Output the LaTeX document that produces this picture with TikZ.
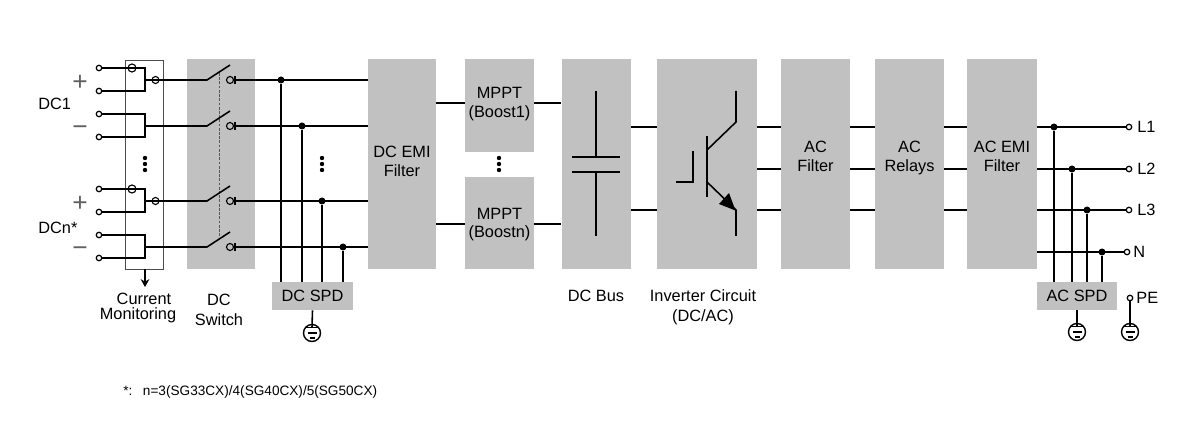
\documentclass[tikz,border=0pt]{standalone}
\usepackage{fontspec}
\setmainfont{Liberation Sans}
\usepackage{xcolor}
\usepackage{tikz}
\usetikzlibrary{arrows.meta}
\definecolor{blockgray}{RGB}{192,193,192}
\definecolor{linkbrown}{RGB}{105,85,60}
\def\px{0.02cm}
\def\dcrows{1/80,2/126,3/201,4/247}
\def\dcjoints{1/281,2/302,3/322,4/343}
\def\acrows{1/127/1129/1137/L1,2/169/1129/1137/L2,3/210/1129/1137/L3,4/252/1127/1133/N}
\def\acjoints{1/1054,2/1072,3/1087,4/1102}
\tikzstyle{every node}=[font=\fontsize{9.3}{10.8}\selectfont,align=center]
\tikzstyle{wire}=[line width=0.9pt,black]
\tikzstyle{thin wire}=[line width=0.65pt,black]
\tikzstyle{block}=[fill=blockgray,inner sep=0pt,minimum width=69*\px,minimum height=210*\px]
\tikzstyle{spd}=[fill=blockgray,inner sep=0pt,minimum width=80*\px,minimum height=28*\px]
\tikzstyle{terminal}=[circle,draw,fill=white,line width=0.7pt,inner sep=0pt,minimum size=5.5*\px]
\tikzstyle{ring}=[circle,draw,line width=0.65pt,inner sep=0pt,minimum size=8*\px]
\tikzstyle{joint}=[circle,fill=black,inner sep=0pt,minimum size=7*\px]
\tikzstyle{polarity}=[font=\fontsize{15}{15}\selectfont,text=black!62]
\tikzset{earth/.pic={
  \draw[line width=0.8pt] (0,0) circle (8.5);
  \draw[line width=0.8pt] (-6.5,-5.7) -- (6.5,-5.7);
  \draw[line width=0.8pt] (-4.5,0) -- (4.5,0);
  \draw[line width=0.8pt] (-2.5,5) -- (2.5,5);
  \coordinate (-bar) at (0,-5.7);
}}

\begin{document}
\begin{tikzpicture}[x=\px,y=-\px]
\useasboundingbox (0,0) rectangle (1200,442);

\begin{scope}
  \node[block,minimum width=68*\px] (sw) at (221,164.5) {};
  \node[block,minimum width=68*\px,text depth=3pt] (dcemi) at (402,164) {DC EMI\\Filter};
  \node[block,minimum height=93*\px,text depth=4pt] (boost1) at (499.5,105.5) {MPPT\\(Boost1)};
  \node[block,minimum height=92*\px,text height=19pt] (boostn) at (499.5,223) {MPPT\\(Boostn)};
  \node[block] (bus) at (596,164) {};
  \node[block,minimum width=100*\px] (inv) at (707,164) {};
  \node[block,text depth=9pt] (acf) at (815.5,164) {AC\\Filter};
  \node[block,text depth=9pt] (acr) at (909.5,164) {AC\\Relays};
  \node[block,minimum width=70*\px,text depth=9pt] (acemi) at (1002,164) {AC EMI\\Filter};
  \node[spd,minimum width=81*\px] (dcspd) at (312.5,296) {DC SPD};
  \node[spd] (acspd) at (1077,296) {AC SPD};
\end{scope}

\draw[line width=0.5pt,black!70] (125,60) rectangle (163,269);
\coordinate (cmbot) at (145,269);
\coordinate (cmtip) at (145,287);
\draw[thin wire,-{Stealth[length=4.5pt,width=5pt]}] (cmbot) -- (cmtip);
\draw[line width=0.5pt,linkbrown,dash pattern=on 1.6pt off 0.8pt] (219,73) -- (219,237);

\foreach \n/\y in \dcrows {
  \node[terminal] (ta\n) at (99,\y-12) {};
  \node[terminal] (tb\n) at (99,\y+11) {};
  \coordinate (tj\n) at (145,\y);
  \coordinate (hinge\n) at (207,\y);
  \coordinate (blade\n) at (230,\y-15);
  \node[ring,minimum size=7*\px] (con\n) at (230,\y) {};
  \coordinate (bar\n) at (235,\y);
  \draw[thin wire] (ta\n) -| (tj\n) |- (tb\n);
  \draw[wire] (tj\n) -- (hinge\n) -- (blade\n);
  \draw[wire] ([yshift=4*\px]bar\n) -- ([yshift=-4*\px]bar\n);
  \draw[wire] (bar\n) -- (bar\n -| dcemi.west);
}
\foreach \n in {1,3} {
  \node[ring] (cta\n) at (132,\n*60.5+7.5) {};
  \node[ring,minimum size=7*\px] (ctb\n) at (155.5,\n*60.5+19.5) {};
}

\foreach \n/\x in \dcjoints {
  \node[joint] (dj\n) at (\x,0 |- bar\n) {};
  \draw[wire] (dj\n) -- (dj\n |- dcspd.north);
}
\pic (gdc) at (312,333) {earth};
\draw[wire] (dcspd.south) -- (gdc-bar);

\foreach \x in {145,322,499} {
  \foreach \y in {158,164,170} {
    \fill (\x,\y) circle (2.2);
  }
}

\foreach \y in {103,224} {
  \draw[wire] (dcemi.east |- 0,\y) -- (boost1.west |- 0,\y);
  \draw[wire] (boost1.east |- 0,\y) -- (bus.west |- 0,\y);
}

\coordinate (capa) at (596,91);
\coordinate (capb) at (596,157);
\coordinate (capc) at (596,172);
\coordinate (capd) at (596,236);
\draw[wire] (capa) -- (capb) (572,157) -- (620,157);
\draw[wire] (capd) -- (capc) (572,172) -- (620,172);

\foreach \y in {127,210} {
  \draw[wire] (bus.east |- 0,\y) -- (inv.west |- 0,\y);
}
\foreach \y in {127,169,210} {
  \draw[wire] (inv.east |- 0,\y) -- (acf.west |- 0,\y);
  \draw[wire] (acf.east |- 0,\y) -- (acr.west |- 0,\y);
  \draw[wire] (acr.east |- 0,\y) -- (acemi.west |- 0,\y);
}

\draw[wire] (736,91) -- (736,122) -- (707,150);
\draw[line width=1pt] (707,136) -- (707,197);
\draw[wire] (707,182) -- (736,210) -- (736,236);
\fill (735.5,210.5) -- (719,204) -- (729,193) -- cycle;
\draw[wire] (676,182) -- (693,182) -- (693,151);

\foreach \n/\y/\x/\lx/\t in \acrows {
  \node[terminal] (out\n) at (\x,\y) {};
  \node[anchor=west,inner sep=0pt] (lab\n) at (\lx,\y) {\t};
  \draw[wire] (acemi.east |- out\n) -- (out\n);
}
\foreach \n/\x in \acjoints {
  \node[joint] (aj\n) at (\x,0 |- out\n) {};
  \draw[wire] (aj\n) -- (aj\n |- acspd.north);
}
\pic (gac) at (1077,332) {earth};
\draw[wire] (acspd.south) -- (gac-bar);

\node[terminal] (pe) at (1130,298) {};
\node[anchor=west,inner sep=0pt] (pelab) at (1136,298) {PE};
\pic (gpe) at (1130,332) {earth};
\draw[wire] (pe) -- (gpe-bar);

\node[polarity] (dc1p) at (80,83) {+};
\node[polarity] (dc1m) at (80,131) {−};
\node[polarity] (dcnp) at (80,204) {+};
\node[polarity] (dcnm) at (80,252) {−};
\node[anchor=west,inner sep=0pt] (dc1) at (38,104) {DC1};
\node[anchor=west,inner sep=0pt] (dcn) at (38,228) {DCn*};

\node (cm) at (138,308) {\hspace*{6.8pt}Current\\[-2.8pt]Monitoring};
\node (swlab) at (219,310) {DC\\[0.6pt]Switch};
\node (buslab) at (596,296) {DC Bus};
\node (invlab) at (703,307) {Inverter Circuit\\[0.6pt](DC/AC)};
\node[anchor=west,inner sep=0pt,font=\fontsize{7.75}{9}\selectfont] (note) at (123,391.5) {*:\hspace{6pt}n=3(SG33CX)/4(SG40CX)/5(SG50CX)};

\end{tikzpicture}
\end{document}
